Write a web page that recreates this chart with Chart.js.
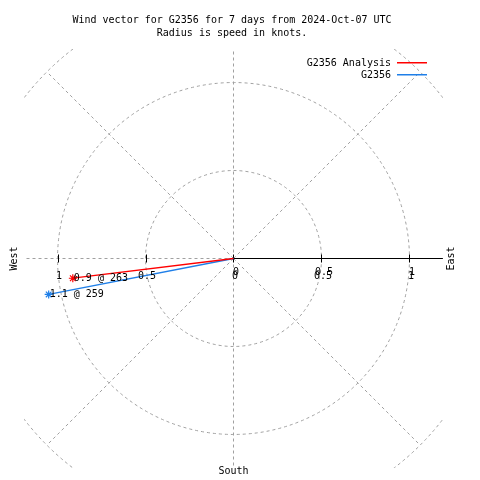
<!DOCTYPE html>
<html>
<head>
<meta charset="utf-8">
<script src="https://cdn.jsdelivr.net/npm/chart.js@4/dist/chart.umd.min.js"></script>
<style>
  html, body { margin: 0; padding: 0; background: #ffffff; }
  #wrap { width: 480px; height: 480px; }
</style>
</head>
<body>
<div id="wrap"><canvas id="c" width="480" height="480"></canvas></div>
<script>
// ---- data ----
const titleLines = ['Wind vector for G2356 for 7 days from 2024-Oct-07 UTC', 'Radius is speed in knots.'];
const seriesNames = ['G2356 Analysis', 'G2356'];
const seriesColors = ['#ff0000', '#1f7fe8'];
const speeds = [0.92, 1.07];        // knots
const directions = [263, 259];      // degrees clockwise from north
const ringValues = [0.5, 1, 1.5];
const radialAngles = [0, 45, 90, 135, 180, 225, 270, 315];
const axisTickValues = [-1, -0.5, 0, 0.5, 1];
const rTickValues = [0, 0.5, 1];
const compass = { west: 'West', east: 'East', south: 'South' };
const rangeMax = 1.19;

function toXY(s, d) {
  const a = d * Math.PI / 180;
  return { x: s * Math.sin(a), y: s * Math.cos(a) };
}

const datasets = seriesNames.map((name, i) => {
  const p = toXY(speeds[i], directions[i]);
  return {
    label: name,
    data: [{ x: 0, y: 0 }, p],
    showLine: true,
    borderColor: seriesColors[i],
    backgroundColor: seriesColors[i],
    borderWidth: 1.3,
    pointStyle: 'star',
    pointRadius: [0, 4],
    pointBorderWidth: 1.2,
    pointBorderColor: seriesColors[i],
    clip: false
  };
});

const FONT = '10px "DejaVu Sans Mono", "Liberation Mono", monospace';

const gridPlugin = {
  id: 'polarGrid',
  beforeDatasetsDraw(chart) {
    const { ctx, chartArea: a, scales: { x, y } } = chart;
    const cx = x.getPixelForValue(0), cy = y.getPixelForValue(0);
    ctx.save();
    ctx.beginPath();
    ctx.rect(a.left, a.top, a.right - a.left, a.bottom - a.top);
    ctx.clip();
    ctx.strokeStyle = '#a0a0a0';
    ctx.lineWidth = 1;
    ctx.setLineDash([3, 3]);
    ringValues.forEach(r => {
      const rp = x.getPixelForValue(r) - cx;
      ctx.beginPath();
      ctx.arc(cx, cy, rp, 0, Math.PI * 2);
      ctx.stroke();
    });
    const rMax = ringValues[ringValues.length - 1];
    radialAngles.forEach(d => {
      if (d === 90) return;
      const p = toXY(rMax, d);
      ctx.beginPath();
      ctx.moveTo(cx, cy);
      ctx.lineTo(x.getPixelForValue(p.x), y.getPixelForValue(p.y));
      ctx.stroke();
    });
    ctx.restore();
    // solid east axis with ticks
    ctx.save();
    ctx.strokeStyle = '#000000';
    ctx.lineWidth = 1;
    ctx.beginPath();
    ctx.moveTo(cx, cy);
    ctx.lineTo(a.right, cy);
    ctx.stroke();
    axisTickValues.forEach(v => {
      const px = Math.round(x.getPixelForValue(v)) + 0.5;
      ctx.beginPath();
      ctx.moveTo(px, cy - 4);
      ctx.lineTo(px, cy + 4);
      ctx.stroke();
    });
    ctx.restore();
  }
};

const textPlugin = {
  id: 'texts',
  afterDatasetsDraw(chart) {
    const { ctx, chartArea: a, scales: { x, y } } = chart;
    const cx = x.getPixelForValue(0), cy = y.getPixelForValue(0);
    ctx.save();
    ctx.font = FONT;
    ctx.fillStyle = '#000000';
    ctx.textBaseline = 'middle';
    // title
    ctx.textAlign = 'center';
    ctx.fillText(titleLines[0], 232, 20);
    ctx.fillText(titleLines[1], 232, 33);
    // tick labels (two overlapping sets as in reference)
    axisTickValues.forEach(v => {
      ctx.fillText(String(Math.abs(v)), x.getPixelForValue(v) + 1.5, cy + 18);
    });
    rTickValues.forEach(v => {
      ctx.fillText(String(v), x.getPixelForValue(v) + 2.5, cy + 14);
    });
    // point labels
    ctx.textAlign = 'left';
    seriesNames.forEach((n, i) => {
      const p = toXY(speeds[i], directions[i]);
      const px = x.getPixelForValue(p.x), py = y.getPixelForValue(p.y);
      ctx.fillText(speeds[i].toFixed(1) + ' @ ' + directions[i], px + 1, py);
    });
    // legend
    ctx.textAlign = 'right';
    seriesNames.forEach((n, i) => {
      const ly = 63 + i * 12;
      ctx.fillStyle = '#000000';
      ctx.fillText(n, 391, ly);
      ctx.fillStyle = seriesColors[i];
      ctx.fillRect(397, ly - 1, 30, 1.5);
    });
    // compass labels
    ctx.fillStyle = '#000000';
    ctx.textAlign = 'center';
    ctx.fillText(compass.south, cx, 471);
    ctx.save();
    ctx.translate(14, cy);
    ctx.rotate(-Math.PI / 2);
    ctx.fillText(compass.west, 0, 0);
    ctx.restore();
    ctx.save();
    ctx.translate(451, cy);
    ctx.rotate(-Math.PI / 2);
    ctx.fillText(compass.east, 0, 0);
    ctx.restore();
    ctx.restore();
  }
};

const half = 209.4;
new Chart(document.getElementById('c'), {
  type: 'scatter',
  data: { datasets },
  options: {
    responsive: false,
    maintainAspectRatio: false,
    animation: false,
    layout: { padding: { left: 233.5 - half, right: 480 - (233.5 + half), top: 258.5 - half, bottom: 480 - (258.5 + half) } },
    scales: {
      x: { type: 'linear', min: -rangeMax, max: rangeMax, display: false },
      y: { type: 'linear', min: -rangeMax, max: rangeMax, display: false }
    },
    plugins: { legend: { display: false }, tooltip: { enabled: false }, title: { display: false } }
  },
  plugins: [gridPlugin, textPlugin]
});
</script>
</body>
</html>
